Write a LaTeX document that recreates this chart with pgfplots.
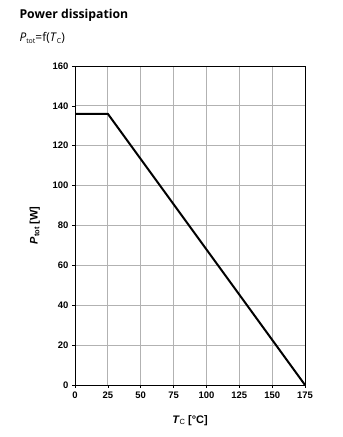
\documentclass[border=0pt]{standalone}
\usepackage{pgfplots}
\pgfplotsset{compat=1.18}
\usepackage{fontspec}
\setmainfont{Liberation Sans}
\newfontfamily\titlefont{Open Sans}
\begin{document}
\begin{tikzpicture}[x=1bp,y=1bp]
\path[use as bounding box] (0,0) rectangle (342,437);
\node[anchor=west,font=\titlefont\bfseries\fontsize{12.3}{14}\selectfont] at (16,422) {Power dissipation};
\node[anchor=west,font=\titlefont\fontsize{12}{14}\selectfont] at (16,399) {\textit{P}\raisebox{-0.3ex}{\fontsize{7}{8}\selectfont tot}=f(\textit{T}\raisebox{-0.3ex}{\fontsize{7}{8}\selectfont C})};
\begin{axis}[
  at={(75bp,52bp)}, anchor=south west,
  scale only axis, width=230bp, height=319bp,
  xmin=0, xmax=175, ymin=0, ymax=160,
  xtick={0,25,...,175}, ytick={0,20,...,160},
  grid=major,
  major grid style={draw=black!30, line width=0.9pt},
  axis line style={line width=0.9pt},
  tick style={black, line width=0.6pt},
  tick align=outside, major tick length=3bp,
  xtick pos=bottom, ytick pos=left,
  tick label style={font=\bfseries\fontsize{9.5}{11}\selectfont},
  /pgf/number format/assume math mode=true,
  xlabel={\textbf{\textit{T}}\raisebox{-0.3ex}{\fontsize{7.5}{8}\selectfont C} \textbf{[°C]}},
  ylabel={\textbf{\textit{P}\raisebox{-0.3ex}{\fontsize{7.5}{8}\selectfont tot} [W]}},
  label style={font=\fontsize{11}{13}\selectfont},
  xlabel style={yshift=-10bp},
  ylabel style={yshift=6bp},
]
\addplot[black, line width=2pt] coordinates {(0,136) (25,136) (175,0)};
\end{axis}
\end{tikzpicture}
\end{document}
